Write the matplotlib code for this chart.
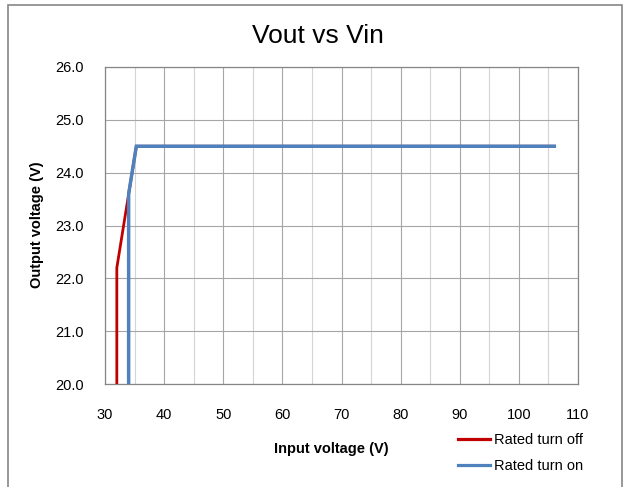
import matplotlib
matplotlib.use("Agg")
import matplotlib.pyplot as plt
from matplotlib.ticker import MultipleLocator, FormatStrFormatter
from matplotlib.patches import Rectangle

plt.rcParams['font.family'] = ['Liberation Sans', 'DejaVu Sans']

# Data
turn_off_vin = [32.0, 32.0, 35.3, 106.0]
turn_off_vout = [20.0, 22.2, 24.5, 24.5]
turn_on_vin = [34.0, 34.0, 35.3, 106.0]
turn_on_vout = [20.0, 23.6, 24.5, 24.5]
series_labels = ["Rated turn off", "Rated turn on"]
title = "Vout vs Vin"
xlabel = "Input voltage (V)"
ylabel = "Output voltage (V)"

W, H = 625, 487
fig = plt.figure(figsize=(W / 100, H / 100), dpi=100)
fig.patch.set_facecolor('white')

# chart-area border
fig.patches.append(Rectangle((8 / W, -0.05), (622 - 8) / W, 1.05 - 5 / H,
                             transform=fig.transFigure, fill=False,
                             edgecolor='#868686', linewidth=1.2))

left, right, top, bottom = 105, 578, 67, 384
ax = fig.add_axes([left / W, 1 - bottom / H, (right - left) / W, (bottom - top) / H])

l1, = ax.plot(turn_off_vin, turn_off_vout, color='#C00000', linewidth=2.0,
              solid_joinstyle='miter', zorder=3)
l2, = ax.plot(turn_on_vin, turn_on_vout, color='#4F81BD', linewidth=2.5,
              solid_joinstyle='miter', zorder=4)

ax.set_xlim(30, 110)
ax.set_ylim(20, 26)
ax.xaxis.set_major_locator(MultipleLocator(10))
ax.xaxis.set_minor_locator(MultipleLocator(5))
ax.yaxis.set_major_locator(MultipleLocator(1))
ax.yaxis.set_major_formatter(FormatStrFormatter('%.1f'))

ax.grid(which='major', color='#a6a6a6', linewidth=0.8)
ax.grid(which='minor', axis='x', color='#d4d4d4', linewidth=0.8)
ax.set_axisbelow(True)

for s in ax.spines.values():
    s.set_color('#868686')
    s.set_linewidth(0.9)

ax.tick_params(which='both', length=0)
ax.tick_params(axis='x', pad=17, labelsize=10.5)
ax.tick_params(axis='y', pad=15, labelsize=10.5)

fig.text(318 / W, 1 - 36 / H, title, fontsize=19, ha='center', va='center')
fig.text(331 / W, 1 - 449 / H, xlabel, fontsize=10.5, fontweight='bold',
         ha='center', va='center')
fig.text(36.5 / W, 1 - 225 / H, ylabel, fontsize=10.5, fontweight='bold',
         ha='center', va='center', rotation=90)

leg = fig.legend([l1, l2], series_labels, loc='upper left',
                 bbox_to_anchor=(458 / W, 1 - 433 / H), frameon=False,
                 fontsize=10.5, handlelength=2.2, handletextpad=0.3,
                 labelspacing=0.85, borderaxespad=0, borderpad=0)
for h in leg.get_lines():
    h.set_linewidth(2.3)

fig.savefig('out.png', dpi=100)
